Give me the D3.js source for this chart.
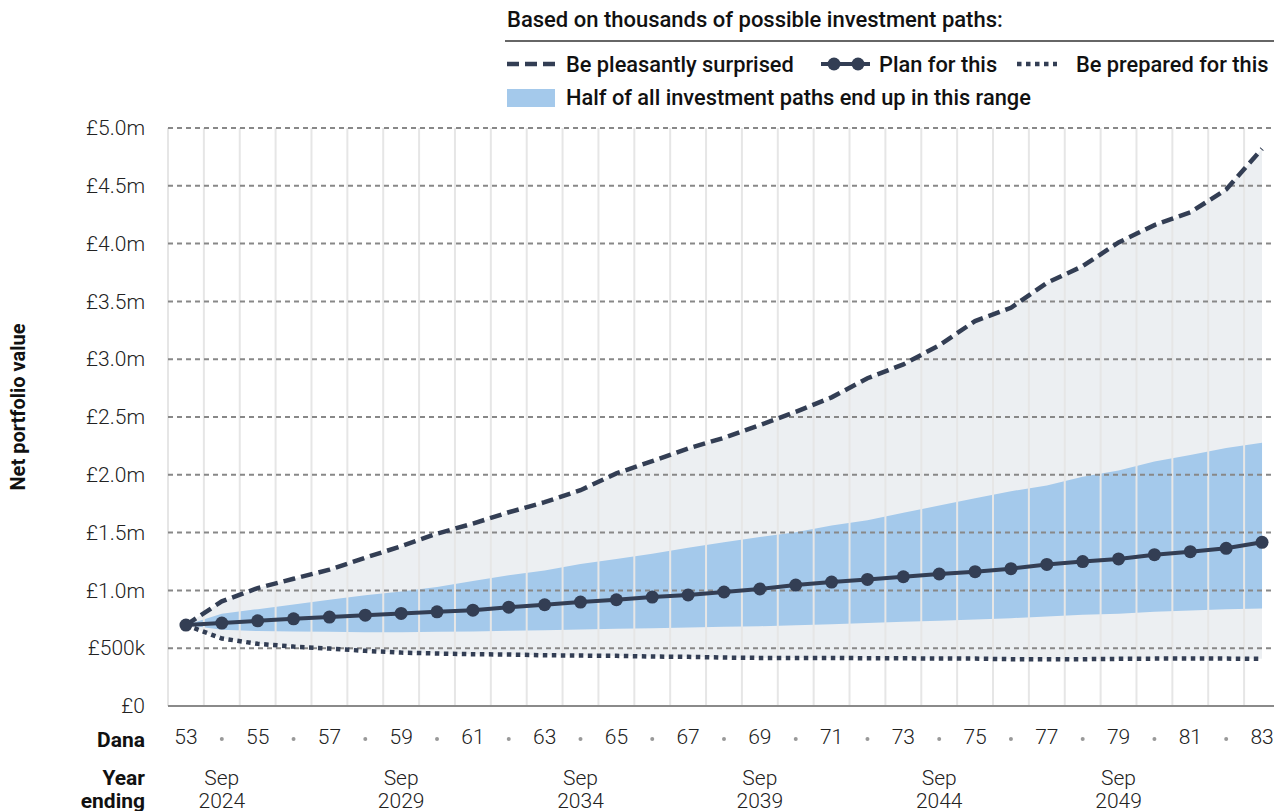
<!DOCTYPE html>
<html>
<head>
  <meta charset="utf-8">
  <title>Net portfolio value</title>
  <script src="https://cdn.jsdelivr.net/npm/d3@7.0.0/dist/d3.min.js"></script>
  <style>
    body { margin: 0; background: #fff; }
    svg { display: block; font-family: Roboto, "Noto Sans", sans-serif; }
  </style>
</head>
<body>
  <div id="chart"></div>

  <script>
    // Ages of Dana, one point per year
    var ages = [53, 54, 55, 56, 57, 58, 59, 60, 61, 62, 63, 64, 65, 66, 67, 68,
                69, 70, 71, 72, 73, 74, 75, 76, 77, 78, 79, 80, 81, 82, 83];

    // Values in £ thousands
    var planForThis = [700, 717, 737, 754, 769, 786, 801, 815, 829, 855, 876, 899, 919, 942, 960, 986,
                       1012, 1046, 1072, 1095, 1118, 1142, 1162, 1188, 1225, 1249, 1272, 1309, 1335, 1364, 1416];
    var pleasantlySurprised = [700, 905, 1020, 1101, 1179, 1283, 1382, 1491, 1578, 1676, 1763, 1867, 2012, 2118, 2228, 2320,
                               2430, 2545, 2670, 2835, 2955, 3120, 3330, 3445, 3660, 3805, 4010, 4160, 4270, 4468, 4820];
    var preparedFor = [700, 584, 538, 514, 497, 477, 462, 454, 448, 445, 439, 436, 434, 428, 425, 419,
                       416, 416, 416, 413, 413, 410, 410, 405, 405, 405, 408, 410, 410, 410, 408];
    var rangeTop = [700, 798, 838, 879, 919, 957, 991, 1029, 1081, 1130, 1173, 1228, 1272, 1318, 1370, 1416,
                    1462, 1503, 1561, 1607, 1671, 1734, 1798, 1858, 1908, 1983, 2038, 2116, 2171, 2231, 2277];
    var rangeBottom = [700, 660, 648, 644, 642, 639, 639, 642, 645, 650, 656, 662, 668, 673, 679, 685,
                       690, 699, 708, 717, 728, 737, 749, 760, 775, 789, 798, 815, 827, 838, 844];

    // Year-ending labels under the age axis
    var yearAges = [54, 59, 64, 69, 74, 79];
    var yearLabels = ["2024", "2029", "2034", "2039", "2044", "2049"];

    var yTicks = [0, 500, 1000, 1500, 2000, 2500, 3000, 3500, 4000, 4500, 5000];

    var W = 1274, H = 811;
    var plotLeft = 168, plotTop = 128, plotBottom = 706;
    var ink = "#333e54";

    var svg = d3.select("#chart").append("svg")
      .attr("width", W)
      .attr("height", H);

    var x = d3.scaleBand().domain(ages).range([plotLeft, plotLeft + 31 * 35.87]).padding(0);
    var y = d3.scaleLinear().domain([0, 5000]).range([plotBottom, plotTop]);
    function cx(a) { return x(a) + x.bandwidth() / 2; }

    var rows = ages.map(function(a, i) {
      return { age: a, plan: planForThis[i], hi: pleasantlySurprised[i], lo: preparedFor[i],
               top: rangeTop[i], bot: rangeBottom[i] };
    });

    // outer range (grey) and half of paths (blue)
    svg.append("path")
      .datum(rows)
      .attr("fill", "#eceff2")
      .attr("d", d3.area()
        .x(function(d) { return cx(d.age); })
        .y0(function(d) { return y(d.lo); })
        .y1(function(d) { return y(d.hi); }));

    svg.append("path")
      .datum(rows)
      .attr("fill", "#a4c9eb")
      .attr("d", d3.area()
        .x(function(d) { return cx(d.age); })
        .y0(function(d) { return y(d.bot); })
        .y1(function(d) { return y(d.top); }));

    // vertical grid at band edges
    svg.append("g")
      .selectAll("line")
      .data(ages)
      .enter().append("line")
      .attr("x1", function(d) { return x(d); })
      .attr("x2", function(d) { return x(d); })
      .attr("y1", plotTop)
      .attr("y2", plotBottom)
      .attr("stroke", "#e6e6e6")
      .attr("stroke-width", 2);

    // horizontal dashed grid
    svg.append("g")
      .selectAll("line")
      .data(yTicks.filter(function(v) { return v > 0; }))
      .enter().append("line")
      .attr("x1", plotLeft)
      .attr("x2", W)
      .attr("y1", function(d) { return y(d); })
      .attr("y2", function(d) { return y(d); })
      .attr("stroke", "#888")
      .attr("stroke-width", 2)
      .attr("stroke-dasharray", "5,4");

    // base line
    svg.append("line")
      .attr("x1", plotLeft).attr("x2", W)
      .attr("y1", plotBottom).attr("y2", plotBottom)
      .attr("stroke", "#8a8a8a")
      .attr("stroke-width", 2);

    // y axis labels
    var yAxis = svg.append("g")
      .attr("transform", "translate(" + plotLeft + ",0)")
      .call(d3.axisLeft(y).tickValues(yTicks).tickSize(0).tickPadding(23)
        .tickFormat(function(v) {
          if (v === 0) return "£0";
          if (v < 1000) return "£" + v + "k";
          return "£" + (v / 1000).toFixed(1) + "m";
        }));
    yAxis.select(".domain").remove();
    yAxis.selectAll("text")
      .attr("font-family", "Roboto")
      .attr("font-size", 21)
      .attr("font-weight", 300)
      .attr("fill", "#222");

    svg.append("text")
      .attr("transform", "translate(25,407) rotate(-90)")
      .attr("text-anchor", "middle")
      .attr("font-size", 20)
      .attr("font-weight", 700)
      .attr("fill", "#111")
      .text("Net portfolio value");

    // lines
    var lineOf = function(key) {
      return d3.line()
        .x(function(d) { return cx(d.age); })
        .y(function(d) { return y(d[key]); });
    };

    svg.append("path")
      .datum(rows)
      .attr("fill", "none")
      .attr("stroke", ink)
      .attr("stroke-width", 4.5)
      .attr("stroke-dasharray", "4.5,4.5")
      .attr("d", lineOf("lo"));

    svg.append("path")
      .datum(rows)
      .attr("fill", "none")
      .attr("stroke", ink)
      .attr("stroke-width", 4.5)
      .attr("stroke-dasharray", "12,6")
      .attr("d", lineOf("hi"));

    svg.append("path")
      .datum(rows)
      .attr("fill", "none")
      .attr("stroke", ink)
      .attr("stroke-width", 4)
      .attr("d", lineOf("plan"));

    svg.append("g")
      .selectAll("circle")
      .data(rows)
      .enter().append("circle")
      .attr("cx", function(d) { return cx(d.age); })
      .attr("cy", function(d) { return y(d.plan); })
      .attr("r", 6.5)
      .attr("fill", ink);

    // age axis
    var xAxis = svg.append("g")
      .attr("transform", "translate(0," + plotBottom + ")")
      .call(d3.axisBottom(x).tickSize(0).tickPadding(23)
        .tickFormat(function(a) { return a % 2 === 1 ? a : ""; }));
    xAxis.select(".domain").remove();
    xAxis.selectAll("text")
      .attr("font-family", "Roboto")
      .attr("font-size", 21)
      .attr("font-weight", 300)
      .attr("fill", "#222");

    svg.append("g")
      .selectAll("circle")
      .data(ages.filter(function(a) { return a % 2 === 0; }))
      .enter().append("circle")
      .attr("cx", function(a) { return cx(a); })
      .attr("cy", 739)
      .attr("r", 2)
      .attr("fill", "#999");

    svg.append("text")
      .attr("x", 145).attr("y", 747)
      .attr("text-anchor", "end")
      .attr("font-size", 21).attr("font-weight", 700).attr("fill", "#111")
      .text("Dana");

    var yearHead = svg.append("text")
      .attr("text-anchor", "end")
      .attr("font-size", 21).attr("font-weight", 700).attr("fill", "#111");
    yearHead.append("tspan").attr("x", 145).attr("y", 785).text("Year");
    yearHead.append("tspan").attr("x", 145).attr("y", 808).text("ending");

    var years = svg.append("g")
      .selectAll("text")
      .data(yearAges)
      .enter().append("text")
      .attr("text-anchor", "middle")
      .attr("font-size", 21).attr("font-weight", 300).attr("fill", "#222");
    years.append("tspan")
      .attr("x", function(a) { return cx(a); })
      .attr("y", 785)
      .text("Sep");
    years.append("tspan")
      .attr("x", function(a) { return cx(a); })
      .attr("y", 808)
      .text(function(a, i) { return yearLabels[i]; });

    // legend
    var lg = svg.append("g");
    lg.append("text")
      .attr("x", 507).attr("y", 27)
      .attr("font-size", 22).attr("font-weight", 500).attr("fill", "#111")
      .text("Based on thousands of possible investment paths:");
    lg.append("line")
      .attr("x1", 505).attr("x2", W)
      .attr("y1", 41).attr("y2", 41)
      .attr("stroke", "#333").attr("stroke-width", 1.5);

    lg.append("line")
      .attr("x1", 507).attr("x2", 555).attr("y1", 64).attr("y2", 64)
      .attr("stroke", ink).attr("stroke-width", 4.5).attr("stroke-dasharray", "12,6");
    lg.append("text")
      .attr("x", 566).attr("y", 72)
      .attr("font-size", 21.8).attr("font-weight", 500).attr("fill", "#111")
      .text("Be pleasantly surprised");

    lg.append("line")
      .attr("x1", 821).attr("x2", 870).attr("y1", 64).attr("y2", 64)
      .attr("stroke", ink).attr("stroke-width", 4);
    lg.selectAll(".legDot")
      .data([834, 858])
      .enter().append("circle")
      .attr("cx", function(d) { return d; })
      .attr("cy", 64).attr("r", 6.5).attr("fill", ink);
    lg.append("text")
      .attr("x", 879).attr("y", 72)
      .attr("font-size", 21.8).attr("font-weight", 500).attr("fill", "#111")
      .text("Plan for this");

    lg.append("line")
      .attr("x1", 1017).attr("x2", 1057).attr("y1", 64).attr("y2", 64)
      .attr("stroke", ink).attr("stroke-width", 4.5).attr("stroke-dasharray", "4.5,4.5");
    lg.append("text")
      .attr("x", 1076).attr("y", 72)
      .attr("font-size", 21.8).attr("font-weight", 500).attr("fill", "#111")
      .text("Be prepared for this");

    lg.append("rect")
      .attr("x", 507).attr("y", 89).attr("width", 48).attr("height", 18)
      .attr("fill", "#a4c9eb");
    lg.append("text")
      .attr("x", 566).attr("y", 105)
      .attr("font-size", 21.8).attr("font-weight", 500).attr("fill", "#111")
      .text("Half of all investment paths end up in this range");
  </script>
</body>
</html>
